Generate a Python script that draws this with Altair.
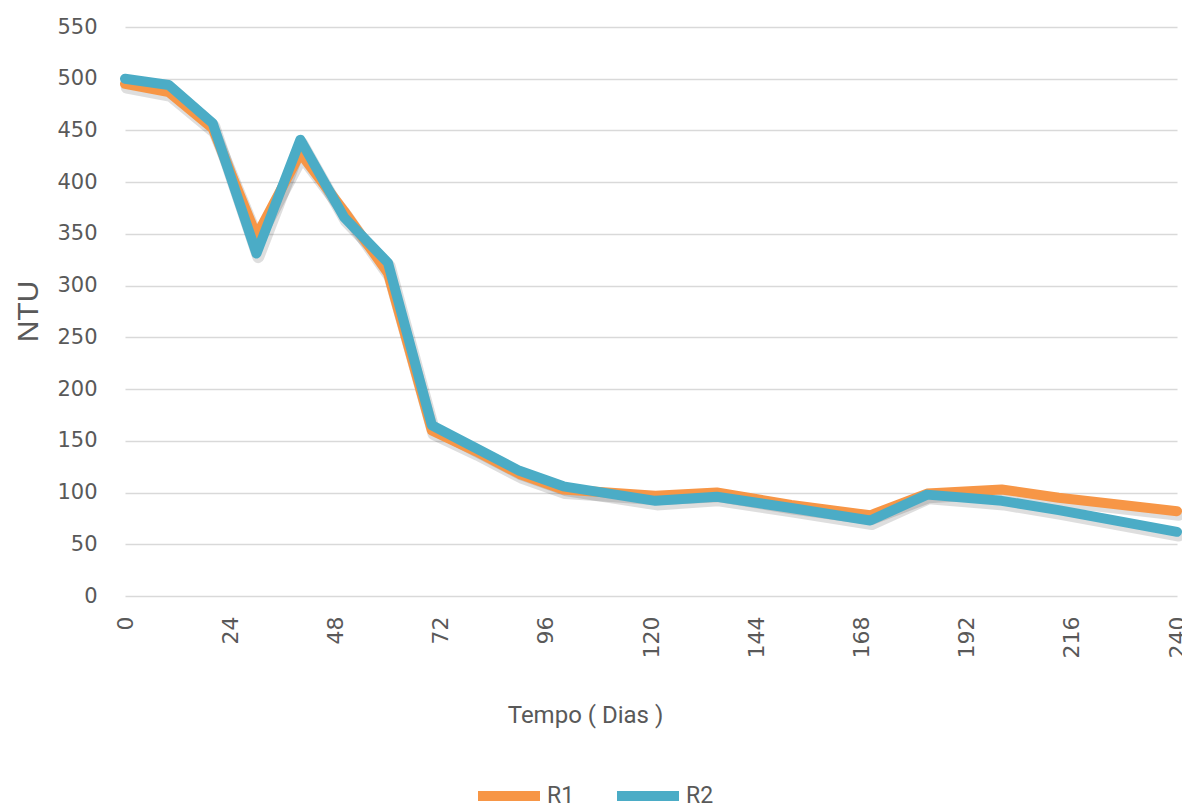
import altair as alt
import pandas as pd

# ---- data ----
days = [0, 10, 20, 30, 40, 50, 60, 70, 80, 90, 100, 121, 135, 152, 170, 183, 200, 213, 240]
r1 = [495, 487, 452, 348, 428, 372, 312, 160, 140, 118, 103, 97, 100, 88, 78, 99, 103, 95, 82]
r2 = [500, 494, 457, 331, 441, 366, 322, 165, 143, 121, 106, 92, 96, 85, 73, 98, 92, 83, 62]
series_names = ["R1", "R2"]
series_colors = ["#F79646", "#4BACC6"]
x_ticks = [0, 24, 48, 72, 96, 120, 144, 168, 192, 216, 240]
y_ticks = [0, 50, 100, 150, 200, 250, 300, 350, 400, 450, 500, 550]

rows = []
for name, vals in zip(series_names, [r1, r2]):
    for d, v in zip(days, vals):
        rows.append({"Dia": d, "NTU": v, "Serie": name})
df = pd.DataFrame(rows)

GRAY = "#595959"
NARROW = "Liberation Sans Narrow, Roboto, sans-serif"

x_enc = alt.X(
    "Dia:Q",
    scale=alt.Scale(domain=[0, 240], nice=False, zero=False),
    axis=alt.Axis(
        values=x_ticks, labelAngle=-90, labelPadding=20,
        labelFont="DejaVu Sans", labelFontSize=22, labelColor=GRAY,
        ticks=False, domain=False, grid=False,
        title="Tempo ( Dias )", titleFont=NARROW, titleFontSize=24,
        titleFontWeight="normal", titleColor=GRAY,
        titleX=460, titleY=119, titleBaseline="middle", titleAlign="center",
    ),
)
y_enc = alt.Y(
    "NTU:Q",
    scale=alt.Scale(domain=[0, 550], nice=False),
    axis=alt.Axis(
        values=y_ticks, labelPadding=28,
        labelFont="DejaVu Sans", labelFontSize=21, labelColor=GRAY,
        ticks=False, domain=False, grid=True,
        gridColor="#D9D9D9", gridWidth=1.5,
        title="NTU", titleFont="Liberation Sans", titleFontSize=30,
        titleFontWeight="normal", titleColor=GRAY,
        titleAngle=-90, titleX=-97, titleY=284,
        titleBaseline="middle", titleAlign="center",
    ),
)

base = alt.Chart(df)

shadow = base.transform_calculate(
    NTU="datum.NTU - 3.5", Dia="datum.Dia + 0.4"
).mark_line(
    color="#000000", opacity=0.13, strokeWidth=12,
    strokeCap="round", strokeJoin="round",
).encode(x=x_enc, y=y_enc, detail="Serie:N")

lines = base.mark_line(
    strokeWidth=10, strokeCap="round", strokeJoin="round"
).encode(
    x=x_enc,
    y=y_enc,
    color=alt.Color(
        "Serie:N",
        scale=alt.Scale(domain=series_names, range=series_colors),
        legend=alt.Legend(
            orient="none", legendX=348, legendY=733, direction="horizontal",
            title=None, symbolType="stroke", symbolSize=3844,
            symbolStrokeWidth=10, labelFont=NARROW, labelFontSize=23,
            labelColor=GRAY, labelOffset=2, columnPadding=22,
        ),
    ),
    order=alt.Order("Dia:Q"),
)

chart = alt.layer(shadow, lines).properties(
    width=1052,
    height=569,
    autosize=alt.AutoSizeParams(type="none"),
    padding={"left": 125, "top": 27, "right": 5, "bottom": 215},
    background="white",
).configure_view(stroke=None)

chart.save("out.html", embed_options={"renderer": "svg", "actions": False})
